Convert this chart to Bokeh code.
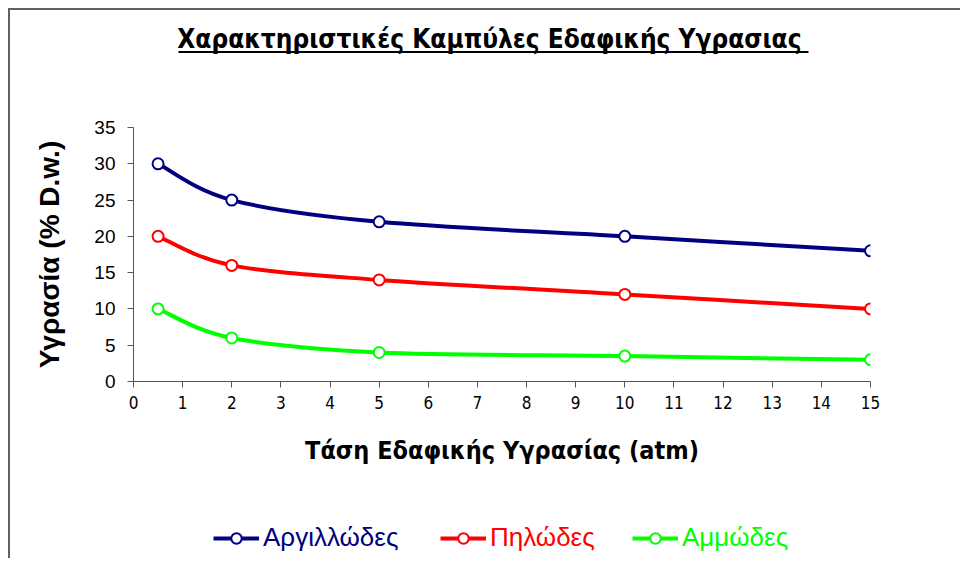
from bokeh.plotting import figure
from bokeh.layouts import column
from bokeh.models import (Range1d, Legend, LegendItem, Label, BoxAnnotation,
                          ColumnDataSource, FixedTicker)
from bokeh.embed import file_html
from bokeh.resources import INLINE

# ---- data ----
pressure = [0.5, 2, 5, 10, 15]
argillodes = [30, 25, 22, 20, 18]
pilodes = [20, 16, 14, 12, 10]
ammodes = [10, 6, 4, 3.5, 3]
series_names = ["Αργιλλώδες", "Πηλώδες", "Αμμώδες"]
series_colors = ["#000080", "#FF0000", "#00FF00"]
x_ticks = list(range(0, 16))
y_ticks = list(range(0, 36, 5))

title_text = "Χαρακτηριστικές  Καμπύλες Εδαφικής Υγρασιας"
x_label = "Τάση Εδαφικής Υγρασίας (atm)"
y_label = "Υγρασία (% D.w.)"

NARROW = "DejaVu Sans Condensed"
SANS = "Liberation Sans"
FRAME = "#606060"
W = 950
BL, BR = 123, 90          # left / right margins shared by all strips
FW = W - BL - BR          # frame width in px


def smooth_segments(xs, ys):
    """Catmull-Rom style Bezier control points (like Excel smoothed lines)."""
    n = len(xs)
    d = dict(x0=[], y0=[], x1=[], y1=[], cx0=[], cy0=[], cx1=[], cy1=[])
    for i in range(n - 1):
        a = i - 1 if i > 0 else i
        b = i + 2 if i + 2 < n else i + 1
        d["x0"].append(xs[i]); d["y0"].append(ys[i])
        d["x1"].append(xs[i + 1]); d["y1"].append(ys[i + 1])
        d["cx0"].append(xs[i] + (xs[i + 1] - xs[a]) / 6)
        d["cy0"].append(ys[i] + (ys[i + 1] - ys[a]) / 6)
        d["cx1"].append(xs[i + 1] - (xs[b] - xs[i]) / 6)
        d["cy1"].append(ys[i + 1] - (ys[b] - ys[i]) / 6)
    return d


def strip_fig(h):
    f = figure(width=W, height=h, output_backend="svg", toolbar_location=None,
               x_range=Range1d(0, FW), y_range=Range1d(0, h),
               x_axis_type=None, y_axis_type=None,
               min_border_left=BL, min_border_right=BR,
               min_border_top=0, min_border_bottom=0)
    f.outline_line_color = None
    f.grid.visible = False
    return f


# ---- title strip ----
t = strip_fig(90)
t.add_layout(Label(x=360, y=62, text=title_text, text_align="center",
                   text_baseline="alphabetic", text_font=NARROW,
                   text_font_style="bold", text_font_size="26px",
                   text_color="black"))
t.add_layout(BoxAnnotation(left=45, right=675, bottom=47.5, top=49.5,
                           fill_color="black", fill_alpha=1, line_color=None))

# ---- main chart ----
p = figure(width=W, height=380, output_backend="svg", toolbar_location=None,
           x_range=Range1d(0, 15), y_range=Range1d(0, 35),
           min_border_left=BL, min_border_right=BR,
           min_border_top=27, min_border_bottom=99)
p.outline_line_color = None
p.grid.visible = False

p.xaxis.ticker = FixedTicker(ticks=x_ticks)
p.yaxis.ticker = FixedTicker(ticks=y_ticks)
for ax in (p.xaxis[0], p.yaxis[0]):
    ax.axis_line_color = "#555555"
    ax.axis_line_width = 1
    ax.major_tick_line_color = "#555555"
    ax.major_tick_in = 0
    ax.major_tick_out = 6
    ax.minor_tick_line_color = None
    ax.major_label_text_color = "black"
    ax.axis_label_text_color = "black"
    ax.axis_label_text_font_style = "bold"

p.xaxis.major_label_text_font = NARROW
p.xaxis.major_label_text_font_size = "17px"
p.xaxis.major_label_standoff = 8
p.xaxis.axis_label = x_label
p.xaxis.axis_label_text_font = NARROW
p.xaxis.axis_label_text_font_size = "25px"
p.xaxis.axis_label_standoff = 24

p.yaxis.major_label_text_font = SANS
p.yaxis.major_label_text_font_size = "19px"
p.yaxis.major_label_standoff = 12
p.yaxis.axis_label = y_label
p.yaxis.axis_label_text_font = SANS
p.yaxis.axis_label_text_font_size = "28px"
p.yaxis.axis_label_standoff = 26

series = [argillodes, pilodes, ammodes]
for color, ys in zip(series_colors, series):
    seg = ColumnDataSource(smooth_segments(pressure, ys))
    p.bezier(x0="x0", y0="y0", x1="x1", y1="y1", cx0="cx0", cy0="cy0",
             cx1="cx1", cy1="cy1", source=seg, line_color=color, line_width=4)
for color, ys in zip(series_colors, series):
    p.scatter(pressure, ys, size=11, marker="circle", fill_color="white",
              line_color=color, line_width=2)

# ---- legend strip (one legend per series so each label has its own colour) ----
lg = strip_fig(78)
leg_x = [80, 307, 499]
for name, color, ys, lx in zip(series_names, series_colors, series, leg_x):
    lr = lg.line(pressure, ys, line_color=color, line_width=4, visible=False)
    sr = lg.scatter(pressure, ys, size=9, marker="circle", fill_color="white",
                    line_color=color, line_width=2, visible=False)
    leg = Legend(items=[LegendItem(label=name, renderers=[lr, sr])],
                 location=(lx, 5), orientation="horizontal",
                 padding=0, margin=0, spacing=0,
                 glyph_width=46, glyph_height=26, label_height=26,
                 label_standoff=4, label_text_font=SANS,
                 label_text_font_size="26px", label_text_color=color,
                 border_line_color=None, background_fill_alpha=0)
    lg.add_layout(leg, "center")

inner = column(t, p, lg, spacing=0, margin=(8, 0, 0, 8),
               styles={"border-left": f"2px solid {FRAME}",
                       "border-top": f"2px solid {FRAME}",
                       "border-right": "none", "border-bottom": "none"})
layout = column(inner, spacing=0)

open("out.html", "w").write(file_html(layout, INLINE))
